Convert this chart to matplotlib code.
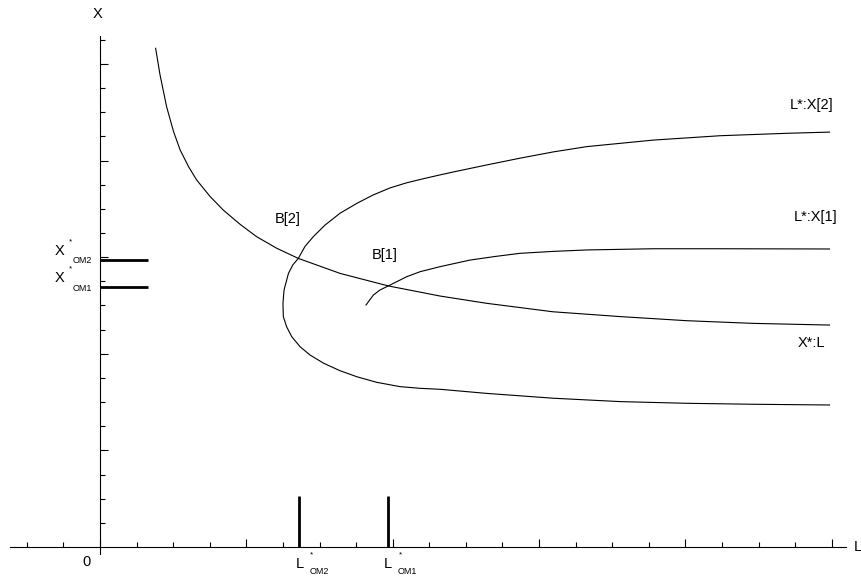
import matplotlib
matplotlib.use("Agg")
import matplotlib.pyplot as plt

# ---- data (axis units: 1 = one minor tick) ----
xl_L = [1.52, 1.64, 1.82, 2.01, 2.19, 2.42, 2.64, 3.01, 3.37, 3.83, 4.28, 4.83,
        5.42, 6.56, 7.88, 9.30, 10.57, 12.38, 14.22, 16.04, 17.85, 19.94]
xl_X = [20.65, 19.55, 18.23, 17.20, 16.44, 15.75, 15.20, 14.51, 13.95, 13.36,
        12.85, 12.37, 11.95, 11.33, 10.81, 10.39, 10.09, 9.74, 9.54, 9.37, 9.26, 9.19]

x2_L = [19.94, 17.86, 16.04, 14.22, 12.39, 10.57, 9.30, 8.75, 8.20, 7.56, 7.02,
        6.56, 6.11, 5.74, 5.47, 5.24, 5.10, 5.01, 5.00, 5.03, 5.15, 5.27, 5.42,
        5.60, 5.83, 6.15, 6.56, 7.02, 7.47, 7.93, 8.38, 8.84, 9.30, 9.66, 10.57,
        11.48, 12.39, 13.31, 15.13, 16.95, 18.77, 19.94]
x2_X = [5.88, 5.91, 5.95, 6.02, 6.16, 6.36, 6.53, 6.57, 6.64, 6.82, 7.05,
        7.30, 7.61, 7.95, 8.29, 8.71, 9.12, 9.54, 10.09, 10.64, 11.33, 11.68, 11.95,
        12.44, 12.85, 13.33, 13.82, 14.23, 14.58, 14.87, 15.08, 15.25, 15.41, 15.53, 15.82,
        16.10, 16.36, 16.58, 16.85, 17.03, 17.13, 17.18]

x1_L = [7.27, 7.47, 7.65, 7.88, 8.38, 8.75, 9.30, 10.11, 10.80, 11.48, 12.38,
        13.31, 15.13, 16.95, 19.94]
x1_X = [10.02, 10.43, 10.64, 10.81, 11.19, 11.40, 11.61, 11.88, 12.03, 12.16, 12.24,
        12.30, 12.35, 12.35, 12.34]

L_om = [5.45, 7.87]      # L*_OM2, L*_OM1
X_om = [11.90, 10.77]    # X*_OM2, X*_OM1
om_names = ["OM2", "OM1"]

x_major = [0, 4, 8, 12, 16, 20]
x_minor = [-2, -1, 1, 2, 3, 5, 6, 7, 9, 10, 11, 13, 14, 15, 17, 18, 19]
y_major = [4, 8, 12, 16, 20]
y_minor = [1, 2, 3, 5, 6, 7, 9, 10, 11, 13, 14, 15, 17, 18, 19, 21]

curve_labels = [("L*:X[2]", 19.44, 18.30), ("L*:X[1]", 19.57, 13.67),
                ("X*:L", 19.44, 8.45), ("B[2]", 5.14, 13.58), ("B[1]", 7.79, 12.09)]

# ---- figure ----
plt.rcParams['font.family'] = ['Liberation Sans', 'DejaVu Sans']
fig = plt.figure(figsize=(8.61, 5.78), dpi=100)
ax = fig.add_axes([0, 0, 1, 1])
ax.set_xlim(-2.734, 20.80)
ax.set_ylim(-1.284, 22.65)
ax.patch.set_alpha(0)

for s in ("top", "right"):
    ax.spines[s].set_visible(False)
ax.spines["left"].set_position(("data", 0))
ax.spines["bottom"].set_position(("data", 0))
ax.spines["bottom"].set_bounds(-2.46, 20.4)
ax.spines["left"].set_bounds(-0.3, 21.15)
for s in ("left", "bottom"):
    ax.spines[s].set_linewidth(0.8)

ax.set_xticks(x_major)
ax.set_xticks(x_minor, minor=True)
ax.set_yticks(y_major)
ax.set_yticks(y_minor, minor=True)
ax.set_xticklabels([])
ax.set_yticklabels([])
ax.tick_params(which="major", direction="in", length=6, width=0.8)
ax.tick_params(which="minor", direction="in", length=3.5, width=0.8)

lw = 0.8
ax.plot(xl_L, xl_X, color="black", lw=lw)
ax.plot(x2_L, x2_X, color="black", lw=lw)
ax.plot(x1_L, x1_X, color="black", lw=lw)

# thick markers on the axes
for lv in L_om:
    ax.plot([lv, lv], [0, 2.1], color="black", lw=2.0, solid_capstyle="butt")
for xv in X_om:
    ax.plot([0, 1.31], [xv, xv], color="black", lw=2.0, solid_capstyle="butt")

fs = 10.5
for txt, lx, ly in curve_labels:
    ax.text(lx, ly, txt, fontsize=fs, ha="center", va="center")

ax.text(-0.08, 22.07, "X", fontsize=fs, ha="center", va="center")
ax.text(20.72, 0.0, "L", fontsize=fs, ha="center", va="center")
ax.text(-0.38, -0.62, "0", fontsize=fs, ha="center", va="center")

# L*_OM labels below the axis
for lv, nm in zip(L_om, om_names):
    ax.annotate("L", (lv, 0), xytext=(0, -12), textcoords="offset points",
                fontsize=fs, ha="center", va="center")
    ax.annotate("*", (lv, 0), xytext=(9, -6), textcoords="offset points",
                fontsize=6, ha="center", va="center")
    ax.annotate(nm, (lv, 0), xytext=(14, -18), textcoords="offset points",
                fontsize=6.5, ha="center", va="center")

# X*_OM labels left of the axis
for xv, nm in zip(X_om, om_names):
    ax.annotate("X", (0, xv), xytext=(-29, 6.5), textcoords="offset points",
                fontsize=fs, ha="center", va="center")
    ax.annotate("*", (0, xv), xytext=(-21, 13), textcoords="offset points",
                fontsize=6, ha="center", va="center")
    ax.annotate(nm, (0, xv), xytext=(-13, -1), textcoords="offset points",
                fontsize=6.5, ha="center", va="center")

fig.savefig("out.png", dpi=100)
